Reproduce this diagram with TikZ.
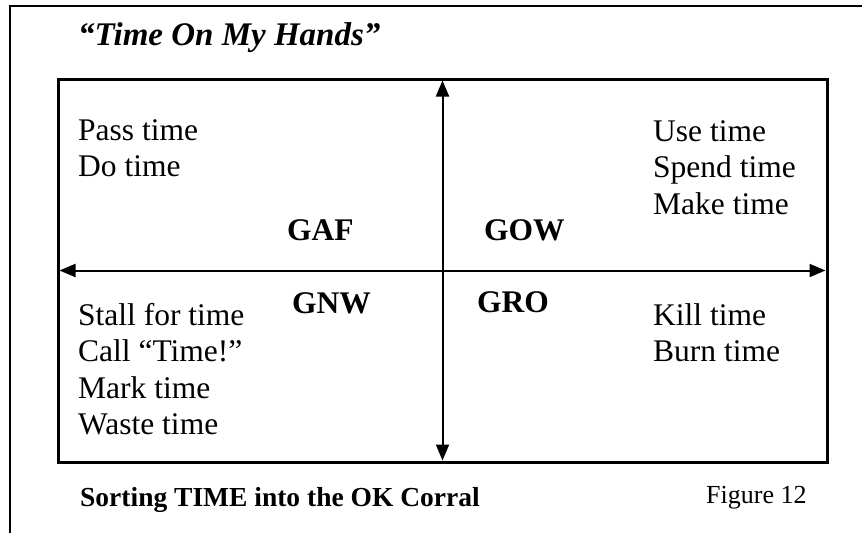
\documentclass[tikz,border=0pt]{standalone}
\usepackage{fontspec}
\setmainfont{Liberation Serif}
\usetikzlibrary{arrows.meta}
\begin{document}
\begin{tikzpicture}[x=1pt,y=-1pt,
  txt/.style={anchor=base west,inner sep=0pt,align=left,font=\fontsize{31.5}{36.5}\selectfont},
  lbl/.style={anchor=base west,inner sep=0pt,font=\fontsize{31.5}{36.5}\selectfont\bfseries},
  axis/.style={line width=2pt,{Triangle[length=16pt,width=13pt]}-{Triangle[length=16pt,width=13pt]}}]
\useasboundingbox (0,0) rectangle (865,533);
% outer frame (left and top)
\draw[line width=2pt] (10,533) -- (10,6) -- (862,6);
% title
\node[anchor=base west,inner sep=0pt,font=\fontsize{33}{36}\selectfont\bfseries\itshape] (title) at (78,45) {“Time On My Hands”};
% box
\node[draw,line width=3pt,outer sep=0pt,minimum width=769pt,minimum height=383pt,inner sep=0pt] (box) at (442.5,270.5) {};
\draw[axis,shorten <=1.5pt,shorten >=1.5pt] (box.north) -- (box.south);
\draw[axis,shorten <=1.5pt,shorten >=1.5pt] (box.west) -- (box.east);
% quadrant texts (base anchor = last line)
\node[txt] (tl) at (78,176.5) {Pass time\\Do time};
\node[txt] (tr) at (653,214) {Use time\\Spend time\\Make time};
\node[txt] (bl) at (78,434.5) {Stall for time\\Call “Time!”\\Mark time\\Waste time};
\node[txt] (br) at (653,361.5) {Kill time\\Burn time};
% labels
\node[lbl] (gaf) at (287,240) {GAF};
\node[lbl] (gow) at (484,240) {GOW};
\node[lbl] (gnw) at (292,313) {GNW};
\node[lbl] (gro) at (477,312) {GRO};
% caption
\node[anchor=base west,inner sep=0pt,font=\fontsize{27.5}{32}\selectfont\bfseries] (cap) at (80,506) {Sorting TIME into the OK Corral};
\node[anchor=base west,inner sep=0pt,font=\fontsize{26}{30}\selectfont] (fig) at (706,503) {Figure 12};
\end{tikzpicture}
\end{document}
